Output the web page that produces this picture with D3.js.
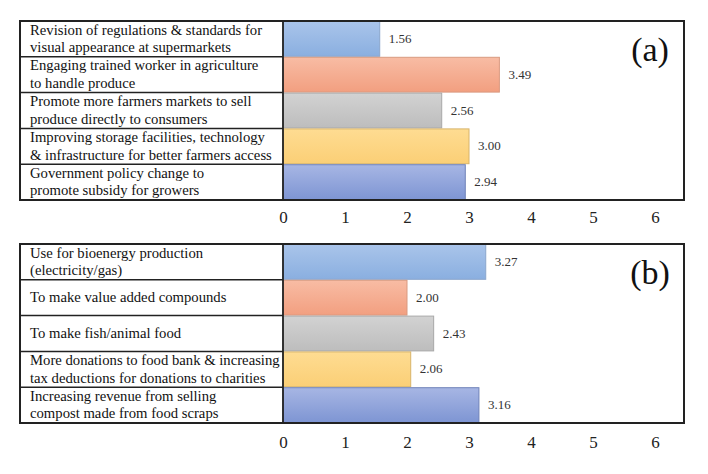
<!DOCTYPE html>
<html>
<head>
<meta charset="utf-8">
<script src="https://cdn.jsdelivr.net/npm/d3@7/dist/d3.min.js"></script>
<style>
  html, body { margin: 0; padding: 0; background: #fff; }
  svg { display: block; }
</style>
</head>
<body>
<svg id="chart" width="708" height="474"></svg>
<script>
// ---- data ----
const labelsA = [
  ["Revision of regulations & standards for", "visual appearance at supermarkets"],
  ["Engaging trained worker in agriculture", "to handle produce"],
  ["Promote more farmers markets to sell", "produce directly to consumers"],
  ["Improving storage facilities, technology", "& infrastructure for better farmers access"],
  ["Government policy change to", "promote subsidy for growers"]
];
const valuesA = [1.56, 3.49, 2.56, 3.00, 2.94];

const labelsB = [
  ["Use for bioenergy production", "(electricity/gas)"],
  ["To make value added compounds"],
  ["To make fish/animal food"],
  ["More donations to food bank & increasing", "tax deductions for donations to charities"],
  ["Increasing revenue from selling", "compost made from food scraps"]
];
const valuesB = [3.27, 2.00, 2.43, 2.06, 3.16];

const tickValues = [0, 1, 2, 3, 4, 5, 6];
const panelTags = ["(a)", "(b)"];

// bar colours (top, bottom of gradient), one per row
const barColors = [
  ["#a9c4ea", "#8aafe0"],
  ["#f8bca4", "#f29f80"],
  ["#d2d2d2", "#bdbdbd"],
  ["#fedc92", "#fbcf76"],
  ["#a7b6e4", "#7e95d3"]
];
const barStrokes = ["#8aa6cc", "#d99a80", "#a8a8a8", "#d8b46a", "#6f82b8"];

const FONT = "Liberation Serif";

// ---- drawing ----
const svg = d3.select("#chart");
const defs = svg.append("defs");
barColors.forEach((c, i) => {
  const g = defs.append("linearGradient").attr("id", "g" + i)
    .attr("x1", 0).attr("y1", 0).attr("x2", 0).attr("y2", 1);
  g.append("stop").attr("offset", "0%").attr("stop-color", c[0]);
  g.append("stop").attr("offset", "100%").attr("stop-color", c[1]);
});

const x = d3.scaleLinear().domain([0, 6]).range([283, 655]);

function panel(top, bottom, labels, values, tag, axisY) {
  const left = 20, split = 283, right = 684;
  const y = d3.scaleBand().domain(d3.range(values.length)).range([top, bottom]).padding(0);
  const g = svg.append("g").attr("font-family", FONT);

  // bars
  g.selectAll("rect.bar").data(values).join("rect")
    .attr("class", "bar")
    .attr("x", x(0))
    .attr("y", (d, i) => y(i) + 0.5)
    .attr("width", d => x(d) - x(0))
    .attr("height", y.bandwidth() - 1)
    .attr("fill", (d, i) => `url(#g${i})`)
    .attr("stroke", (d, i) => barStrokes[i])
    .attr("stroke-width", 1);

  // value labels
  g.selectAll("text.val").data(values).join("text")
    .attr("class", "val")
    .attr("x", d => x(d) + 9)
    .attr("y", (d, i) => y(i) + y.bandwidth() / 2 + 4)
    .attr("font-family", FONT)
    .attr("font-size", 13)
    .attr("fill", "#333")
    .text(d => d.toFixed(2));

  // row separators in label column
  g.selectAll("line.sep").data(d3.range(1, values.length)).join("line")
    .attr("x1", left).attr("x2", split)
    .attr("y1", i => y(i)).attr("y2", i => y(i))
    .attr("stroke", "#222").attr("stroke-width", 1.5);

  // label text
  labels.forEach((lines, i) => {
    const cy = y(i) + y.bandwidth() / 2;
    const lh = 17.5;
    const t = g.append("text").attr("font-family", FONT).attr("font-size", 14.7).attr("fill", "#111");
    lines.forEach((ln, j) => {
      t.append("tspan")
        .attr("x", 30)
        .attr("y", cy + (j - (lines.length - 1) / 2) * lh + 4.5)
        .text(ln);
    });
  });

  // frame
  g.append("rect").attr("x", left).attr("y", top).attr("width", right - left).attr("height", bottom - top)
    .attr("fill", "none").attr("stroke", "#222").attr("stroke-width", 2);
  g.append("line").attr("x1", split).attr("x2", split).attr("y1", top).attr("y2", bottom)
    .attr("stroke", "#222").attr("stroke-width", 1.8);

  // panel tag
  g.append("text").attr("x", 650).attr("y", top + 40).attr("text-anchor", "middle")
    .attr("font-family", FONT)
    .attr("font-size", 34).attr("fill", "#111").text(tag);

  // axis
  const ax = svg.append("g").attr("transform", `translate(0,${axisY})`)
    .call(d3.axisBottom(x).tickValues(tickValues).tickSize(0).tickPadding(0).tickFormat(d3.format("d")));
  ax.attr("font-family", FONT);
  ax.select(".domain").remove();
  ax.selectAll("text").attr("font-size", 17).attr("fill", "#222")
    .attr("font-family", FONT);
}

panel(21, 200, labelsA, valuesA, panelTags[0], 211);
panel(244, 423, labelsB, valuesB, panelTags[1], 436);
</script>
</body>
</html>
